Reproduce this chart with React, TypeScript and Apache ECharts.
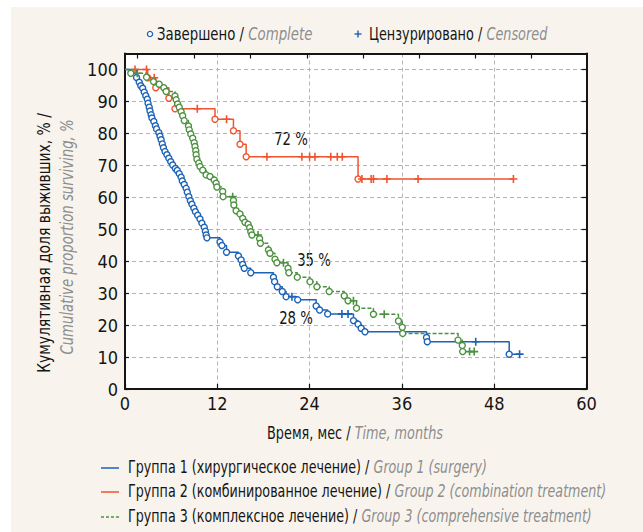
import React, { useEffect, useRef } from 'react';
import * as echarts from 'echarts';

// ---------- data ----------
const xTickValues = [0, 12, 24, 36, 48, 60];
const yTickValues = [0, 10, 20, 30, 40, 50, 60, 70, 80, 90, 100];
const topTickValues = [1.65, 8.95, 16.25, 23.75, 31.0, 38.25, 45.55, 52.85];

// Group 1 (surgery): [months, cumulative survival %] at each death
const group1Events: [number, number][] = [
  [0, 100], [1.5, 97.5], [1.85, 96.0], [2.05, 94.9], [2.3, 94.1], [2.5, 92.9], [2.7, 91.8],
  [2.9, 90.7], [3.0, 89.4], [3.15, 88.2], [3.25, 87.0], [3.4, 85.8], [3.5, 84.8], [3.75, 83.7],
  [3.95, 82.4], [4.1, 81.4], [4.4, 80.2], [4.55, 79.1], [4.7, 78.0], [4.85, 76.7], [5.0, 75.5],
  [5.2, 74.3], [5.45, 73.3], [5.7, 72.2], [5.95, 71.1], [6.2, 70.1], [6.55, 69.0], [6.8, 68.4],
  [7.05, 67.4], [7.3, 66.3], [7.45, 65.1], [7.7, 64.0], [7.95, 62.8], [8.1, 61.6], [8.3, 60.2],
  [8.5, 58.9], [8.7, 57.8], [8.95, 56.6], [9.15, 55.5], [9.45, 54.4], [9.75, 53.2], [10.0, 51.9],
  [10.3, 50.6], [10.45, 49.4], [10.55, 48.2], [10.65, 47.3], [12.35, 46.0], [12.6, 44.9],
  [13.2, 42.8], [14.75, 41.6], [15.1, 40.4], [15.3, 39.0], [15.5, 37.8], [16.35, 36.4],
  [19.3, 35.0], [19.45, 33.6], [19.8, 32.0], [20.45, 30.5], [20.95, 28.9], [22.45, 27.9],
  [24.85, 26.0], [25.3, 24.7], [26.35, 23.5], [29.7, 21.4], [30.3, 20.3], [30.7, 19.0],
  [31.2, 17.9], [39.2, 16.1], [39.3, 14.8], [49.95, 10.9],
];
const group1Censored: number[] = [21.7, 28.2, 29.0, 45.6, 51.3];

// Group 2 (combination treatment)
const group2Events: [number, number][] = [
  [1.0, 100], [2.95, 97.4], [4.0, 94.3], [5.7, 91.0], [6.5, 87.7], [11.7, 84.4], [14.1, 80.8],
  [14.95, 76.6], [15.75, 72.7], [30.3, 65.7],
];
const group2Censored: number[] = [
  1.3, 2.8, 3.8, 9.4, 13.2, 18.45, 23.0, 24.0, 24.7, 26.75, 27.6, 28.25, 30.8, 32.0, 32.3,
  34.05, 38.1, 50.5,
];

// Group 3 (comprehensive treatment)
const group3Events: [number, number][] = [
  [0, 100], [0.75, 98.8], [2.8, 97.6], [3.7, 96.2], [4.45, 95.4], [5.05, 94.3], [5.35, 93.1],
  [6.5, 91.7], [6.65, 90.5], [6.85, 89.2], [7.05, 88.2], [7.3, 86.8], [7.5, 85.5], [7.7, 84.0],
  [8.25, 82.3], [8.35, 81.1], [8.55, 79.8], [8.8, 78.5], [9.0, 77.1], [9.1, 75.9], [9.2, 74.6],
  [9.25, 73.3], [9.35, 71.9], [9.6, 70.7], [9.75, 69.6], [10.1, 68.5], [10.55, 67.0],
  [11.05, 66.5], [11.6, 65.4], [11.85, 64.4], [11.95, 63.2], [12.7, 61.8], [12.75, 60.2],
  [14.1, 59.0], [14.15, 57.6], [14.45, 55.8], [14.95, 54.8], [15.3, 53.4], [15.6, 52.2],
  [16.0, 51.6], [16.2, 50.5], [16.35, 49.2], [16.5, 48.2], [17.5, 47.0], [17.6, 45.6],
  [18.65, 43.5], [18.85, 42.5], [19.5, 40.6], [19.75, 39.5], [21.2, 37.8], [21.3, 36.4],
  [22.4, 35.0], [24.05, 33.6], [24.95, 32.0], [26.55, 30.5], [28.5, 29.2], [29.0, 27.6],
  [30.1, 25.3], [32.3, 23.4], [35.55, 21.3], [36.05, 19.3], [36.1, 17.4], [43.3, 15.3],
  [43.85, 13.6], [43.9, 11.7],
];
const group3Censored: number[] = [1.6, 14.0, 17.3, 20.6, 29.7, 33.7, 44.8, 45.4];

const percentTexts = ['72 %', '35 %', '28 %'];

const legendRu = [
  'Группа 1 (хирургическое лечение) / ',
  'Группа 2 (комбинированное лечение) / ',
  'Группа 3 (комплексное лечение) / ',
];
const legendEn = [
  'Group 1 (surgery)',
  'Group 2 (combination treatment)',
  'Group 3 (comprehensive treatment)',
];

// ---------- styles ----------
const FONT = "'Liberation Sans Narrow', 'DejaVu Sans Condensed', 'Roboto Condensed', sans-serif";
const BLUE = '#1c62b6';
const RED = '#f0532f';
const GREEN = '#4c9140';
const GRAY = '#8d8d8d';
const INK = '#151515';
const PLUS = 'path://M0,4H10V6H0Z M4,0H6V10H4Z';
const SQUEEZE = 0.84;

function buildData(events: [number, number][], censored: number[], color: string) {
  const pts = [
    ...events.slice(1).map((e) => ({ t: e[0], s: e[1], c: false })),
    ...censored.map((t) => ({ t, s: 0, c: true })),
  ].sort((a, b) => a.t - b.t);
  let level = events[0][1];
  const items: any[] = [{ value: [events[0][0], level], symbol: 'none' }];
  for (const p of pts) {
    if (p.c) {
      items.push({
        value: [p.t, level],
        symbol: PLUS,
        symbolSize: 8,
        itemStyle: { color, borderWidth: 0 },
      });
    } else {
      level = p.s;
      items.push({
        value: [p.t, p.s],
        symbol: 'circle',
        symbolSize: 6,
        itemStyle: { color: '#ffffff', borderColor: color, borderWidth: 1.4 },
      });
    }
  }
  return items;
}

function richLine(ru: string, en: string, size: number) {
  return {
    text: `{a|${ru}}{b|${en}}`,
    rich: {
      a: { fontFamily: FONT, fontSize: size, fill: INK, color: INK },
      b: { fontFamily: FONT, fontSize: size, fontStyle: 'italic', fill: GRAY, color: GRAY },
    },
  };
}

export default function App() {
  const ref = useRef<HTMLDivElement>(null);

  useEffect(() => {
    document.body.style.margin = '0';
    if (!ref.current) return;
    const chart = echarts.init(ref.current, undefined, { renderer: 'svg' });

    const series = [
      { name: legendEn[0], data: buildData(group1Events, group1Censored, BLUE), color: BLUE, dash: 'solid' },
      { name: legendEn[1], data: buildData(group2Events, group2Censored, RED), color: RED, dash: 'solid' },
      { name: legendEn[2], data: buildData(group3Events, group3Censored, GREEN), color: GREEN, dash: [4, 2] },
    ].map((s) => ({
      type: 'line',
      name: s.name,
      step: 'end',
      xAxisIndex: 0,
      yAxisIndex: 0,
      data: s.data,
      showSymbol: true,
      itemStyle: { color: s.color },
      lineStyle: { color: s.color, width: 1.5, type: s.dash },
      emphasis: { disabled: true },
      silent: true,
    }));

    const axisLine = { show: true, onZero: false, lineStyle: { color: INK, width: 2 } };
    const labelStyle = { fontFamily: FONT, fontSize: 18, color: INK };
    const split = { show: true, lineStyle: { color: '#b4b4b4', type: [4, 3], width: 1 } };

    const legendGraphics: any[] = [];
    const rowY = [468, 492, 517];
    const colors = [BLUE, RED, GREEN];
    rowY.forEach((y, i) => {
      legendGraphics.push({
        type: 'line',
        shape: { x1: 101, y1: y, x2: 119, y2: y },
        style: { stroke: colors[i], lineWidth: 1.5, lineDash: i === 2 ? [3, 2] : null },
      });
      legendGraphics.push({
        type: 'text',
        x: 128,
        y,
        scaleX: 0.83,
        style: { ...richLine(legendRu[i], legendEn[i], 17), verticalAlign: 'middle', align: 'left' },
      });
    });

    const pct = (text: string, x: number, y: number) => ({
      type: 'text',
      x,
      y,
      scaleX: 0.82,
      style: { text, fontFamily: FONT, fontSize: 18, fill: INK, align: 'center', verticalAlign: 'middle' },
    });

    chart.setOption({
      animation: false,
      backgroundColor: 'transparent',
      grid: {
        left: 125,
        right: 56.5,
        top: 53.5,
        bottom: 143,
        show: true,
        backgroundColor: '#ffffff',
        borderWidth: 0,
        containLabel: false,
        outerBoundsMode: 'none',
      },
      xAxis: [
        {
          type: 'value',
          min: 0,
          max: 60,
          interval: 12,
          position: 'bottom',
          axisLine,
          axisTick: { show: true, inside: true, length: 5, lineStyle: { color: INK, width: 1.2 } },
          axisLabel: { ...labelStyle, margin: 5, customValues: xTickValues },
          splitLine: split,
        },
        {
          type: 'value',
          min: 0,
          max: 60,
          position: 'top',
          axisLine,
          axisTick: {
            show: true,
            inside: true,
            length: 5,
            customValues: topTickValues,
            lineStyle: { color: INK, width: 1.2 },
          },
          axisLabel: { show: false },
          splitLine: { show: false },
        },
      ],
      yAxis: [
        {
          type: 'value',
          min: 0,
          max: 105,
          interval: 10,
          position: 'left',
          axisLine,
          axisTick: { show: true, inside: true, length: 4, customValues: yTickValues, lineStyle: { color: INK, width: 1.2 } },
          axisLabel: { ...labelStyle, margin: 7, customValues: yTickValues },
          splitLine: split,
        },
        {
          type: 'value',
          min: 0,
          max: 105,
          interval: 10,
          position: 'right',
          axisLine,
          axisTick: { show: true, inside: true, length: 5, customValues: yTickValues, lineStyle: { color: INK, width: 1.2 } },
          axisLabel: { show: false },
          splitLine: { show: false },
        },
      ],
      series,
      graphic: [
        // top legend
        {
          type: 'circle',
          shape: { cx: 150, cy: 34, r: 2.6 },
          style: { fill: '#ffffff', stroke: BLUE, lineWidth: 1.3 },
        },
        {
          type: 'text',
          x: 157,
          y: 34,
          scaleX: 0.87,
          style: { ...richLine('Завершено / ', 'Complete', 17), verticalAlign: 'middle', align: 'left' },
        },
        {
          type: 'line',
          shape: { x1: 354.5, y1: 34, x2: 361.5, y2: 34 },
          style: { stroke: BLUE, lineWidth: 1.4 },
        },
        {
          type: 'line',
          shape: { x1: 358, y1: 30.5, x2: 358, y2: 37.5 },
          style: { stroke: BLUE, lineWidth: 1.4 },
        },
        {
          type: 'text',
          x: 369,
          y: 34,
          scaleX: 0.84,
          style: { ...richLine('Цензурировано / ', 'Censored', 17), verticalAlign: 'middle', align: 'left' },
        },
        // y-axis title (two lines, rotated)
        {
          type: 'text',
          x: 44,
          y: 243,
          rotation: Math.PI / 2,
          scaleX: 0.86,
          style: {
            text: 'Кумулятивная доля выживших, % /',
            fontFamily: FONT,
            fontSize: 18,
            fill: INK,
            align: 'center',
            verticalAlign: 'middle',
          },
        },
        {
          type: 'text',
          x: 67,
          y: 237,
          rotation: Math.PI / 2,
          scaleX: 0.82,
          style: {
            text: 'Cumulative proportion surviving, %',
            fontFamily: FONT,
            fontSize: 18,
            fontStyle: 'italic',
            fill: GRAY,
            align: 'center',
            verticalAlign: 'middle',
          },
        },
        // x-axis title
        {
          type: 'text',
          x: 355,
          y: 433,
          scaleX: SQUEEZE,
          style: { ...richLine('Время, мес / ', 'Time, months', 17), align: 'center', verticalAlign: 'middle' },
        },
        // percentage annotations
        pct(percentTexts[0], 291, 139),
        pct(percentTexts[1], 314, 260),
        pct(percentTexts[2], 296, 318),
        ...legendGraphics,
      ],
    });

    return () => chart.dispose();
  }, []);

  return (
    <div style={{ position: 'relative', width: 643, height: 532, background: '#ffffff', overflow: 'hidden' }}>
      <div style={{ position: 'absolute', left: 11, top: 7, right: 0, bottom: 0, background: '#f8f4ed' }} />
      <div ref={ref} style={{ position: 'absolute', left: 0, top: 0, width: 643, height: 532 }} />
    </div>
  );
}
